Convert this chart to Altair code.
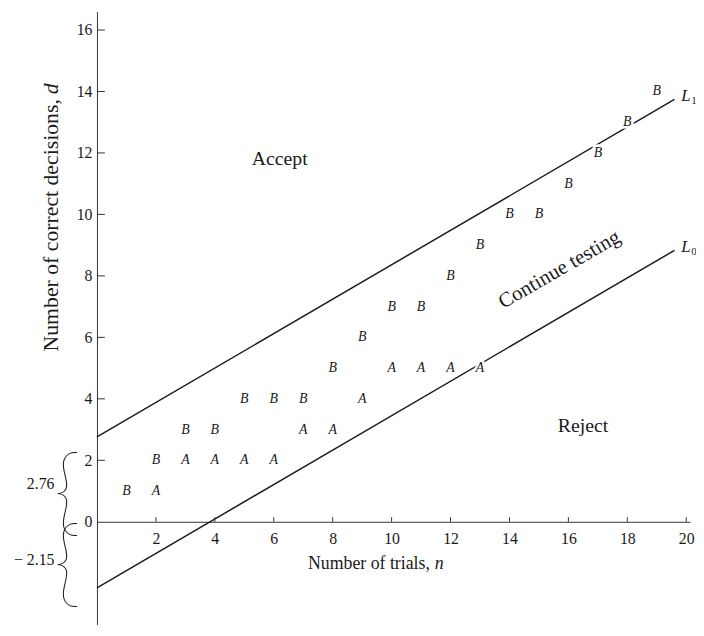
import altair as alt
import pandas as pd

# ---- data ----
n_B = list(range(1, 20))
d_B = [1, 2, 3, 3, 4, 4, 4, 5, 6, 7, 7, 8, 9, 10, 10, 11, 12, 13, 14]
n_A = list(range(2, 14))
d_A = [1, 2, 2, 2, 2, 3, 3, 4, 5, 5, 5, 5]

line_names = ["L1", "L0"]
line_letter = ["L", "L"]
line_sub = ["1", "0"]
line_start_n = [0, 0]
line_start_d = [2.76, -2.15]
line_end_n = [19.6, 19.6]
line_end_d = [13.74, 8.83]

x_ticks = [2, 4, 6, 8, 10, 12, 14, 16, 18, 20]
y_ticks = [0, 2, 4, 6, 8, 10, 12, 14, 16]
y_tick_marks = [2, 4, 6, 8, 10, 12, 14, 16]

region_text = ["Accept", "Reject"]
region_n = [6.2, 16.5]
region_d = [11.8, 3.1]
cont_text = ["Continue testing"]
cont_n = [15.7]
cont_d = [8.2]

brace_labels = ["2.76", "\u2212 2.15"]
brace_mid = [1.38, -1.075]

# ---- layout ----
W, H = 600, 620
XMIN, XMAX = 0, 20.13
YMIN, YMAX = -3.34, 16.6
SERIF = "Liberation Serif"
INK = "#1a1a1a"

xs = alt.Scale(domain=[XMIN, XMAX], nice=False, zero=False)
ys = alt.Scale(domain=[YMIN, YMAX], nice=False, zero=False)
x_offset = -(H - H * (YMAX - 0) / (YMAX - YMIN))

X_AX = alt.Axis(
    values=x_ticks, ticks=False, grid=False, title=None, offset=x_offset,
    domainColor="#333", domainWidth=1, labelFont=SERIF, labelFontSize=16,
    labelColor=INK, labelPadding=9, labelFlush=False)
Y_AX = alt.Axis(
    values=y_ticks, ticks=False, grid=False, title=None,
    domainColor="#333", domainWidth=1, labelFont=SERIF, labelFontSize=16,
    labelColor=INK, labelPadding=5, labelFlush=False)

lines_df = pd.DataFrame({
    "line": line_names + line_names,
    "n": line_start_n + line_end_n,
    "d": line_start_d + line_end_d,
})
end_df = pd.DataFrame({"line": line_names, "n": line_end_n, "d": line_end_d,
                       "L": line_letter, "sub": line_sub})
pts_df = pd.DataFrame({
    "n": n_B + n_A,
    "d": d_B + d_A,
    "letter": ["B"] * len(n_B) + ["A"] * len(n_A),
})
xt_df = pd.DataFrame({"n": x_ticks})
yt_df = pd.DataFrame({"d": y_tick_marks})
reg_df = pd.DataFrame({"t": region_text, "n": region_n, "d": region_d})
cont_df = pd.DataFrame({"t": cont_text, "n": cont_n, "d": cont_d})
brace_df = pd.DataFrame({"lab": brace_labels, "d": brace_mid, "g": ["{", "{"]})


def X(f="n:Q"):
    return alt.X(f, scale=xs, axis=X_AX)


def Y(f="d:Q"):
    return alt.Y(f, scale=ys, axis=Y_AX)


lines = alt.Chart(lines_df).mark_line(color=INK, strokeWidth=1.5).encode(
    x=X(), y=Y(), detail="line:N")

ytick = alt.Chart(yt_df).mark_rule(color="#333", strokeWidth=1).encode(
    x=alt.value(0), x2=alt.value(8), y=Y())
xtick = alt.Chart(xt_df).mark_rule(color="#333", strokeWidth=1).encode(
    x=X(), y=alt.datum(0), y2=alt.datum(0.15))

halo = alt.Chart(pts_df).mark_text(
    font=SERIF, fontStyle="italic", fontSize=14, stroke="white", strokeWidth=5,
    fill="white").encode(x=X(), y=Y(), text="letter:N")
letters = alt.Chart(pts_df).mark_text(
    font=SERIF, fontStyle="italic", fontSize=14, color=INK).encode(
    x=X(), y=Y(), text="letter:N")

regions = alt.Chart(reg_df).mark_text(
    font=SERIF, fontSize=20, color=INK).encode(x=X(), y=Y(), text="t:N")
cont = alt.Chart(cont_df).mark_text(
    font=SERIF, fontSize=21, color=INK, angle=330).encode(x=X(), y=Y(), text="t:N")

Ltext = alt.Chart(end_df).mark_text(
    font=SERIF, fontStyle="italic", fontSize=17, color=INK, align="left",
    dx=7, dy=-3).encode(x=X(), y=Y(), text="L:N")
Lsub = alt.Chart(end_df).mark_text(
    font=SERIF, fontSize=11, color=INK, align="left",
    dx=17, dy=2).encode(x=X(), y=Y(), text="sub:N")

upper_brace = alt.Chart(brace_df.iloc[[0]]).mark_text(
    font="Lato", fontWeight=100, fontSize=98, color=INK, baseline="middle",
    dy=16).encode(x=alt.value(-30), y=Y(), text="g:N")
lower_brace = alt.Chart(brace_df.iloc[[1]]).mark_text(
    font="Lato", fontWeight=100, fontSize=98, color=INK, baseline="middle",
    dy=12).encode(x=alt.value(-30), y=Y(), text="g:N")
brace_lab = alt.Chart(brace_df).mark_text(
    font=SERIF, fontSize=16, color=INK, align="right", baseline="middle", dy=5).encode(
    x=alt.value(-43), y=Y(), text="lab:N")

xt_main = alt.Chart(pd.DataFrame({"t": ["Number of trials,"], "n": [11.3], "d": [-1.38]})
    ).mark_text(font=SERIF, fontSize=18, color=INK, align="right").encode(
    x=X(), y=Y(), text="t:N")
xt_ital = alt.Chart(pd.DataFrame({"t": ["n"], "n": [11.3], "d": [-1.38]})
    ).mark_text(font=SERIF, fontSize=18, fontStyle="italic", color=INK,
                align="left", dx=5).encode(x=X(), y=Y(), text="t:N")

yt_main = alt.Chart(pd.DataFrame({"t": ["Number of correct decisions,"], "d": [13.75]})
    ).mark_text(font=SERIF, fontSize=22, color=INK, align="right", angle=270,
                baseline="middle").encode(x=alt.value(-46), y=Y(), text="t:N")
yt_ital = alt.Chart(pd.DataFrame({"t": ["d"], "d": [13.75]})
    ).mark_text(font=SERIF, fontSize=22, fontStyle="italic", color=INK, align="left",
                angle=270, baseline="middle", dx=5).encode(
    x=alt.value(-46), y=Y(), text="t:N")

chart = alt.layer(
    lines, ytick, xtick, halo, letters, regions, cont, Ltext, Lsub,
    upper_brace, lower_brace, brace_lab, xt_main, xt_ital, yt_main, yt_ital,
).properties(
    width=W, height=H,
    background="white",
    autosize=alt.AutoSizeParams(type="none"),
    padding={"left": 90, "top": 0, "right": 6, "bottom": 0},
).configure_view(stroke=None)

chart.save("out.html", embed_options={"renderer": "svg", "actions": False})
